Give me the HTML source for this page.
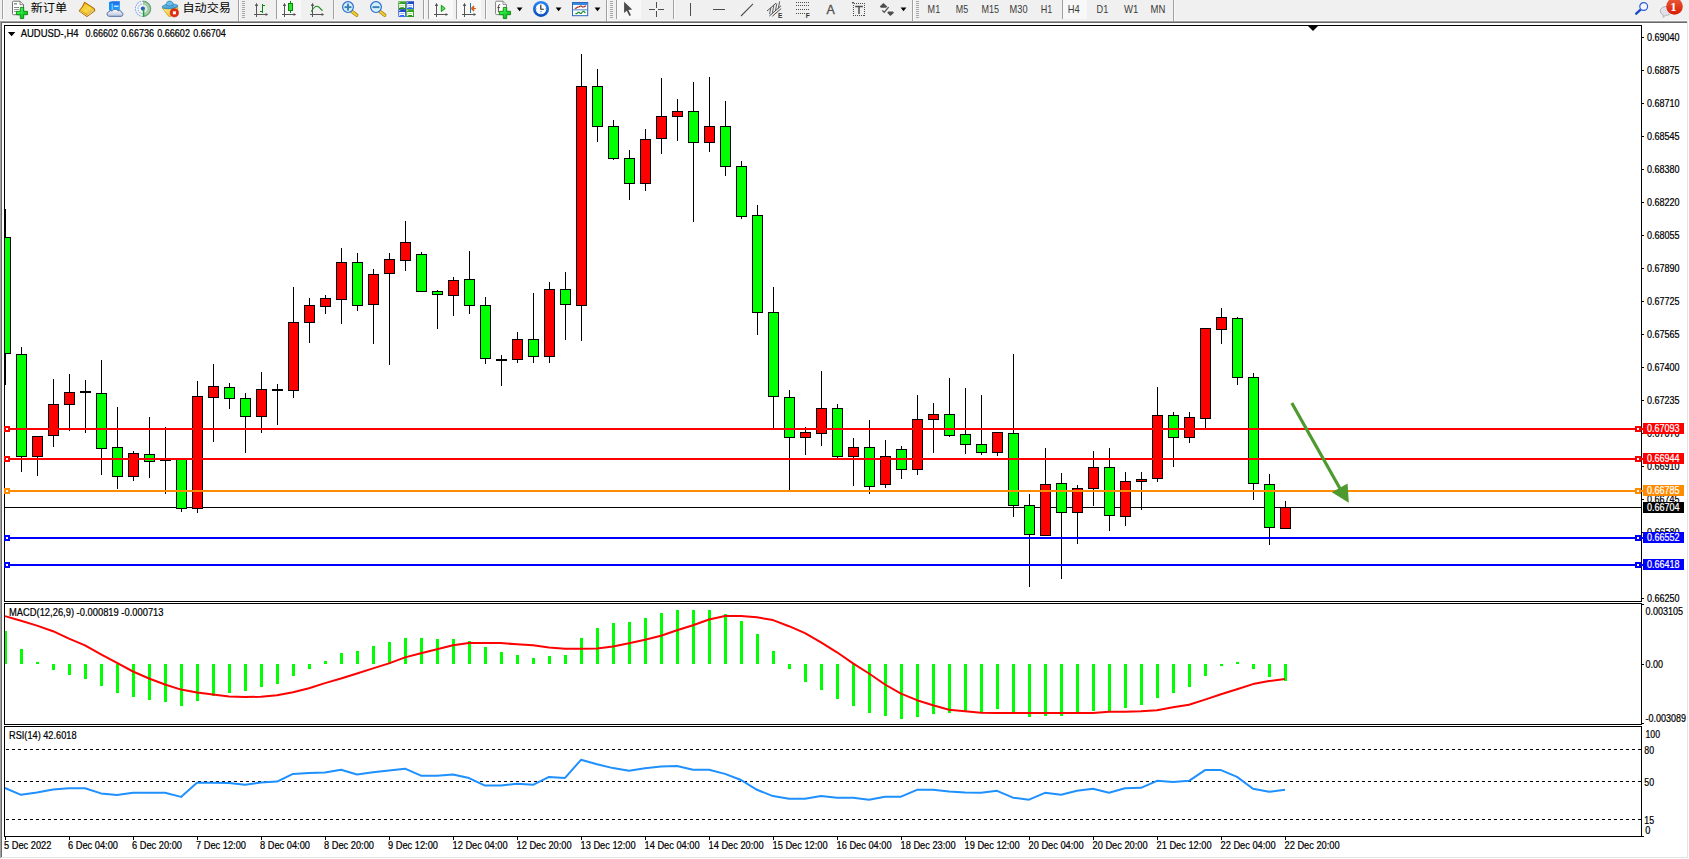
<!DOCTYPE html>
<html><head><meta charset="utf-8"><title>AUDUSD-,H4</title>
<style>
html,body{margin:0;padding:0;}
body{width:1689px;height:859px;overflow:hidden;background:#f0f0f0;position:relative;font-family:"Liberation Sans", sans-serif;}
svg text{white-space:pre;}
</style></head><body>
<svg width="1689" height="859" viewBox="0 0 1689 859" style="position:absolute;left:0;top:0" font-family='"Liberation Sans", sans-serif' shape-rendering="crispEdges">
<rect x="2" y="23" width="1685" height="834" fill="#fff" />
<rect x="0" y="21" width="1687" height="1" fill="#a0a0a0" />
<rect x="1" y="22" width="1686" height="1" fill="#696969" />
<rect x="0" y="21" width="1" height="838" fill="#a0a0a0" />
<rect x="1" y="22" width="1" height="836" fill="#696969" />
<rect x="1687" y="21" width="1" height="837" fill="#e3e3e3" />
<rect x="1688" y="21" width="1" height="838" fill="#fff" />
<rect x="1" y="857" width="1687" height="1" fill="#e3e3e3" />
<rect x="0" y="858" width="1689" height="1" fill="#fff" />
<rect x="4" y="25" width="1638" height="1" fill="#000" />
<rect x="4" y="601" width="1638" height="1" fill="#000" />
<rect x="4" y="25" width="1" height="577" fill="#000" />
<rect x="1641" y="25" width="1" height="577" fill="#000" />
<rect x="4" y="603" width="1638" height="1" fill="#000" />
<rect x="4" y="724" width="1638" height="1" fill="#000" />
<rect x="4" y="603" width="1" height="122" fill="#000" />
<rect x="1641" y="603" width="1" height="122" fill="#000" />
<rect x="4" y="726" width="1638" height="1" fill="#000" />
<rect x="4" y="836" width="1638" height="1" fill="#000" />
<rect x="4" y="726" width="1" height="111" fill="#000" />
<rect x="1641" y="726" width="1" height="111" fill="#000" />
<rect x="5" y="507" width="1636" height="1" fill="#000" />
<clipPath id="cc"><rect x="5" y="26" width="1636" height="575"/></clipPath><g clip-path="url(#cc)">
<rect x="5" y="209" width="1" height="176" fill="#000" />
<rect x="0" y="237" width="11" height="117" fill="#000" />
<rect x="1" y="238" width="9" height="115" fill="#00ff00" />
<rect x="21" y="347" width="1" height="125" fill="#000" />
<rect x="16" y="354" width="11" height="103" fill="#000" />
<rect x="17" y="355" width="9" height="101" fill="#00ff00" />
<rect x="37" y="436" width="1" height="40" fill="#000" />
<rect x="32" y="436" width="11" height="21" fill="#000" />
<rect x="33" y="437" width="9" height="19" fill="#ff0000" />
<rect x="53" y="379" width="1" height="68" fill="#000" />
<rect x="48" y="404" width="11" height="32" fill="#000" />
<rect x="49" y="405" width="9" height="30" fill="#ff0000" />
<rect x="69" y="374" width="1" height="57" fill="#000" />
<rect x="64" y="392" width="11" height="13" fill="#000" />
<rect x="65" y="393" width="9" height="11" fill="#ff0000" />
<rect x="85" y="380" width="1" height="53" fill="#000" />
<rect x="80" y="391" width="11" height="2" fill="#000" />
<rect x="101" y="360" width="1" height="115" fill="#000" />
<rect x="96" y="393" width="11" height="56" fill="#000" />
<rect x="97" y="394" width="9" height="54" fill="#00ff00" />
<rect x="117" y="407" width="1" height="82" fill="#000" />
<rect x="112" y="447" width="11" height="30" fill="#000" />
<rect x="113" y="448" width="9" height="28" fill="#00ff00" />
<rect x="133" y="451" width="1" height="30" fill="#000" />
<rect x="128" y="453" width="11" height="24" fill="#000" />
<rect x="129" y="454" width="9" height="22" fill="#ff0000" />
<rect x="149" y="417" width="1" height="61" fill="#000" />
<rect x="144" y="454" width="11" height="8" fill="#000" />
<rect x="145" y="455" width="9" height="6" fill="#00ff00" />
<rect x="165" y="427" width="1" height="67" fill="#000" />
<rect x="160" y="460" width="11" height="1" fill="#000" />
<rect x="181" y="459" width="1" height="53" fill="#000" />
<rect x="176" y="459" width="11" height="50" fill="#000" />
<rect x="177" y="460" width="9" height="48" fill="#00ff00" />
<rect x="197" y="381" width="1" height="132" fill="#000" />
<rect x="192" y="396" width="11" height="113" fill="#000" />
<rect x="193" y="397" width="9" height="111" fill="#ff0000" />
<rect x="213" y="364" width="1" height="78" fill="#000" />
<rect x="208" y="386" width="11" height="12" fill="#000" />
<rect x="209" y="387" width="9" height="10" fill="#ff0000" />
<rect x="229" y="383" width="1" height="26" fill="#000" />
<rect x="224" y="387" width="11" height="12" fill="#000" />
<rect x="225" y="388" width="9" height="10" fill="#00ff00" />
<rect x="245" y="393" width="1" height="60" fill="#000" />
<rect x="240" y="398" width="11" height="19" fill="#000" />
<rect x="241" y="399" width="9" height="17" fill="#00ff00" />
<rect x="261" y="372" width="1" height="61" fill="#000" />
<rect x="256" y="389" width="11" height="28" fill="#000" />
<rect x="257" y="390" width="9" height="26" fill="#ff0000" />
<rect x="277" y="384" width="1" height="41" fill="#000" />
<rect x="272" y="389" width="11" height="2" fill="#000" />
<rect x="293" y="287" width="1" height="111" fill="#000" />
<rect x="288" y="322" width="11" height="69" fill="#000" />
<rect x="289" y="323" width="9" height="67" fill="#ff0000" />
<rect x="309" y="298" width="1" height="45" fill="#000" />
<rect x="304" y="305" width="11" height="18" fill="#000" />
<rect x="305" y="306" width="9" height="16" fill="#ff0000" />
<rect x="325" y="295" width="1" height="19" fill="#000" />
<rect x="320" y="298" width="11" height="9" fill="#000" />
<rect x="321" y="299" width="9" height="7" fill="#ff0000" />
<rect x="341" y="248" width="1" height="76" fill="#000" />
<rect x="336" y="262" width="11" height="38" fill="#000" />
<rect x="337" y="263" width="9" height="36" fill="#ff0000" />
<rect x="357" y="253" width="1" height="58" fill="#000" />
<rect x="352" y="262" width="11" height="44" fill="#000" />
<rect x="353" y="263" width="9" height="42" fill="#00ff00" />
<rect x="373" y="269" width="1" height="75" fill="#000" />
<rect x="368" y="274" width="11" height="31" fill="#000" />
<rect x="369" y="275" width="9" height="29" fill="#ff0000" />
<rect x="389" y="253" width="1" height="112" fill="#000" />
<rect x="384" y="259" width="11" height="15" fill="#000" />
<rect x="385" y="260" width="9" height="13" fill="#ff0000" />
<rect x="405" y="221" width="1" height="50" fill="#000" />
<rect x="400" y="242" width="11" height="19" fill="#000" />
<rect x="401" y="243" width="9" height="17" fill="#ff0000" />
<rect x="421" y="252" width="1" height="40" fill="#000" />
<rect x="416" y="254" width="11" height="38" fill="#000" />
<rect x="417" y="255" width="9" height="36" fill="#00ff00" />
<rect x="437" y="290" width="1" height="39" fill="#000" />
<rect x="432" y="291" width="11" height="4" fill="#000" />
<rect x="433" y="292" width="9" height="2" fill="#00ff00" />
<rect x="453" y="277" width="1" height="39" fill="#000" />
<rect x="448" y="280" width="11" height="16" fill="#000" />
<rect x="449" y="281" width="9" height="14" fill="#ff0000" />
<rect x="469" y="251" width="1" height="63" fill="#000" />
<rect x="464" y="279" width="11" height="27" fill="#000" />
<rect x="465" y="280" width="9" height="25" fill="#00ff00" />
<rect x="485" y="297" width="1" height="67" fill="#000" />
<rect x="480" y="305" width="11" height="54" fill="#000" />
<rect x="481" y="306" width="9" height="52" fill="#00ff00" />
<rect x="501" y="355" width="1" height="31" fill="#000" />
<rect x="496" y="359" width="11" height="2" fill="#000" />
<rect x="517" y="332" width="1" height="31" fill="#000" />
<rect x="512" y="339" width="11" height="21" fill="#000" />
<rect x="513" y="340" width="9" height="19" fill="#ff0000" />
<rect x="533" y="293" width="1" height="70" fill="#000" />
<rect x="528" y="339" width="11" height="18" fill="#000" />
<rect x="529" y="340" width="9" height="16" fill="#00ff00" />
<rect x="549" y="282" width="1" height="81" fill="#000" />
<rect x="544" y="289" width="11" height="68" fill="#000" />
<rect x="545" y="290" width="9" height="66" fill="#ff0000" />
<rect x="565" y="272" width="1" height="68" fill="#000" />
<rect x="560" y="289" width="11" height="16" fill="#000" />
<rect x="561" y="290" width="9" height="14" fill="#00ff00" />
<rect x="581" y="54" width="1" height="287" fill="#000" />
<rect x="576" y="86" width="11" height="220" fill="#000" />
<rect x="577" y="87" width="9" height="218" fill="#ff0000" />
<rect x="597" y="69" width="1" height="73" fill="#000" />
<rect x="592" y="86" width="11" height="41" fill="#000" />
<rect x="593" y="87" width="9" height="39" fill="#00ff00" />
<rect x="613" y="120" width="1" height="40" fill="#000" />
<rect x="608" y="126" width="11" height="33" fill="#000" />
<rect x="609" y="127" width="9" height="31" fill="#00ff00" />
<rect x="629" y="150" width="1" height="50" fill="#000" />
<rect x="624" y="158" width="11" height="26" fill="#000" />
<rect x="625" y="159" width="9" height="24" fill="#00ff00" />
<rect x="645" y="129" width="1" height="62" fill="#000" />
<rect x="640" y="139" width="11" height="45" fill="#000" />
<rect x="641" y="140" width="9" height="43" fill="#ff0000" />
<rect x="661" y="78" width="1" height="76" fill="#000" />
<rect x="656" y="116" width="11" height="23" fill="#000" />
<rect x="657" y="117" width="9" height="21" fill="#ff0000" />
<rect x="677" y="99" width="1" height="42" fill="#000" />
<rect x="672" y="111" width="11" height="6" fill="#000" />
<rect x="673" y="112" width="9" height="4" fill="#ff0000" />
<rect x="693" y="82" width="1" height="140" fill="#000" />
<rect x="688" y="111" width="11" height="32" fill="#000" />
<rect x="689" y="112" width="9" height="30" fill="#00ff00" />
<rect x="709" y="77" width="1" height="75" fill="#000" />
<rect x="704" y="126" width="11" height="17" fill="#000" />
<rect x="705" y="127" width="9" height="15" fill="#ff0000" />
<rect x="725" y="101" width="1" height="75" fill="#000" />
<rect x="720" y="126" width="11" height="41" fill="#000" />
<rect x="721" y="127" width="9" height="39" fill="#00ff00" />
<rect x="741" y="161" width="1" height="58" fill="#000" />
<rect x="736" y="166" width="11" height="51" fill="#000" />
<rect x="737" y="167" width="9" height="49" fill="#00ff00" />
<rect x="757" y="205" width="1" height="130" fill="#000" />
<rect x="752" y="215" width="11" height="98" fill="#000" />
<rect x="753" y="216" width="9" height="96" fill="#00ff00" />
<rect x="773" y="287" width="1" height="142" fill="#000" />
<rect x="768" y="312" width="11" height="85" fill="#000" />
<rect x="769" y="313" width="9" height="83" fill="#00ff00" />
<rect x="789" y="390" width="1" height="101" fill="#000" />
<rect x="784" y="397" width="11" height="41" fill="#000" />
<rect x="785" y="398" width="9" height="39" fill="#00ff00" />
<rect x="805" y="427" width="1" height="28" fill="#000" />
<rect x="800" y="432" width="11" height="6" fill="#000" />
<rect x="801" y="433" width="9" height="4" fill="#ff0000" />
<rect x="821" y="371" width="1" height="75" fill="#000" />
<rect x="816" y="408" width="11" height="26" fill="#000" />
<rect x="817" y="409" width="9" height="24" fill="#ff0000" />
<rect x="837" y="404" width="1" height="54" fill="#000" />
<rect x="832" y="408" width="11" height="49" fill="#000" />
<rect x="833" y="409" width="9" height="47" fill="#00ff00" />
<rect x="853" y="438" width="1" height="48" fill="#000" />
<rect x="848" y="447" width="11" height="10" fill="#000" />
<rect x="849" y="448" width="9" height="8" fill="#ff0000" />
<rect x="869" y="420" width="1" height="74" fill="#000" />
<rect x="864" y="447" width="11" height="40" fill="#000" />
<rect x="865" y="448" width="9" height="38" fill="#00ff00" />
<rect x="885" y="440" width="1" height="48" fill="#000" />
<rect x="880" y="456" width="11" height="29" fill="#000" />
<rect x="881" y="457" width="9" height="27" fill="#ff0000" />
<rect x="901" y="446" width="1" height="33" fill="#000" />
<rect x="896" y="449" width="11" height="21" fill="#000" />
<rect x="897" y="450" width="9" height="19" fill="#00ff00" />
<rect x="917" y="395" width="1" height="80" fill="#000" />
<rect x="912" y="419" width="11" height="51" fill="#000" />
<rect x="913" y="420" width="9" height="49" fill="#ff0000" />
<rect x="933" y="403" width="1" height="50" fill="#000" />
<rect x="928" y="414" width="11" height="6" fill="#000" />
<rect x="929" y="415" width="9" height="4" fill="#ff0000" />
<rect x="949" y="378" width="1" height="59" fill="#000" />
<rect x="944" y="414" width="11" height="22" fill="#000" />
<rect x="945" y="415" width="9" height="20" fill="#00ff00" />
<rect x="965" y="388" width="1" height="66" fill="#000" />
<rect x="960" y="434" width="11" height="11" fill="#000" />
<rect x="961" y="435" width="9" height="9" fill="#00ff00" />
<rect x="981" y="395" width="1" height="60" fill="#000" />
<rect x="976" y="444" width="11" height="9" fill="#000" />
<rect x="977" y="445" width="9" height="7" fill="#00ff00" />
<rect x="997" y="432" width="1" height="24" fill="#000" />
<rect x="992" y="432" width="11" height="21" fill="#000" />
<rect x="993" y="433" width="9" height="19" fill="#ff0000" />
<rect x="1013" y="354" width="1" height="163" fill="#000" />
<rect x="1008" y="433" width="11" height="73" fill="#000" />
<rect x="1009" y="434" width="9" height="71" fill="#00ff00" />
<rect x="1029" y="494" width="1" height="93" fill="#000" />
<rect x="1024" y="505" width="11" height="30" fill="#000" />
<rect x="1025" y="506" width="9" height="28" fill="#00ff00" />
<rect x="1045" y="448" width="1" height="88" fill="#000" />
<rect x="1040" y="484" width="11" height="52" fill="#000" />
<rect x="1041" y="485" width="9" height="50" fill="#ff0000" />
<rect x="1061" y="473" width="1" height="106" fill="#000" />
<rect x="1056" y="483" width="11" height="30" fill="#000" />
<rect x="1057" y="484" width="9" height="28" fill="#00ff00" />
<rect x="1077" y="485" width="1" height="59" fill="#000" />
<rect x="1072" y="488" width="11" height="25" fill="#000" />
<rect x="1073" y="489" width="9" height="23" fill="#ff0000" />
<rect x="1093" y="451" width="1" height="55" fill="#000" />
<rect x="1088" y="467" width="11" height="22" fill="#000" />
<rect x="1089" y="468" width="9" height="20" fill="#ff0000" />
<rect x="1109" y="448" width="1" height="83" fill="#000" />
<rect x="1104" y="467" width="11" height="49" fill="#000" />
<rect x="1105" y="468" width="9" height="47" fill="#00ff00" />
<rect x="1125" y="472" width="1" height="54" fill="#000" />
<rect x="1120" y="481" width="11" height="36" fill="#000" />
<rect x="1121" y="482" width="9" height="34" fill="#ff0000" />
<rect x="1141" y="472" width="1" height="38" fill="#000" />
<rect x="1136" y="479" width="11" height="3" fill="#000" />
<rect x="1137" y="480" width="9" height="1" fill="#ff0000" />
<rect x="1157" y="387" width="1" height="95" fill="#000" />
<rect x="1152" y="415" width="11" height="64" fill="#000" />
<rect x="1153" y="416" width="9" height="62" fill="#ff0000" />
<rect x="1173" y="412" width="1" height="55" fill="#000" />
<rect x="1168" y="415" width="11" height="23" fill="#000" />
<rect x="1169" y="416" width="9" height="21" fill="#00ff00" />
<rect x="1189" y="412" width="1" height="31" fill="#000" />
<rect x="1184" y="417" width="11" height="21" fill="#000" />
<rect x="1185" y="418" width="9" height="19" fill="#ff0000" />
<rect x="1205" y="328" width="1" height="101" fill="#000" />
<rect x="1200" y="328" width="11" height="91" fill="#000" />
<rect x="1201" y="329" width="9" height="89" fill="#ff0000" />
<rect x="1221" y="308" width="1" height="36" fill="#000" />
<rect x="1216" y="317" width="11" height="13" fill="#000" />
<rect x="1217" y="318" width="9" height="11" fill="#ff0000" />
<rect x="1237" y="317" width="1" height="68" fill="#000" />
<rect x="1232" y="318" width="11" height="60" fill="#000" />
<rect x="1233" y="319" width="9" height="58" fill="#00ff00" />
<rect x="1253" y="373" width="1" height="127" fill="#000" />
<rect x="1248" y="377" width="11" height="107" fill="#000" />
<rect x="1249" y="378" width="9" height="105" fill="#00ff00" />
<rect x="1269" y="474" width="1" height="71" fill="#000" />
<rect x="1264" y="484" width="11" height="44" fill="#000" />
<rect x="1265" y="485" width="9" height="42" fill="#00ff00" />
<rect x="1285" y="501" width="1" height="28" fill="#000" />
<rect x="1280" y="507" width="11" height="22" fill="#000" />
<rect x="1281" y="508" width="9" height="20" fill="#ff0000" />
</g>
<rect x="1642" y="37" width="2" height="1" fill="#000" />
<text x="1647" y="41" font-size="10.4" fill="#000" stroke="#000" stroke-width="0.22" text-anchor="start" textLength="32.6" lengthAdjust="spacingAndGlyphs" >0.69040</text>
<rect x="1642" y="70" width="2" height="1" fill="#000" />
<text x="1647" y="74" font-size="10.4" fill="#000" stroke="#000" stroke-width="0.22" text-anchor="start" textLength="32.6" lengthAdjust="spacingAndGlyphs" >0.68875</text>
<rect x="1642" y="103" width="2" height="1" fill="#000" />
<text x="1647" y="107" font-size="10.4" fill="#000" stroke="#000" stroke-width="0.22" text-anchor="start" textLength="32.6" lengthAdjust="spacingAndGlyphs" >0.68710</text>
<rect x="1642" y="136" width="2" height="1" fill="#000" />
<text x="1647" y="140" font-size="10.4" fill="#000" stroke="#000" stroke-width="0.22" text-anchor="start" textLength="32.6" lengthAdjust="spacingAndGlyphs" >0.68545</text>
<rect x="1642" y="169" width="2" height="1" fill="#000" />
<text x="1647" y="173" font-size="10.4" fill="#000" stroke="#000" stroke-width="0.22" text-anchor="start" textLength="32.6" lengthAdjust="spacingAndGlyphs" >0.68380</text>
<rect x="1642" y="202" width="2" height="1" fill="#000" />
<text x="1647" y="206" font-size="10.4" fill="#000" stroke="#000" stroke-width="0.22" text-anchor="start" textLength="32.6" lengthAdjust="spacingAndGlyphs" >0.68220</text>
<rect x="1642" y="235" width="2" height="1" fill="#000" />
<text x="1647" y="239" font-size="10.4" fill="#000" stroke="#000" stroke-width="0.22" text-anchor="start" textLength="32.6" lengthAdjust="spacingAndGlyphs" >0.68055</text>
<rect x="1642" y="268" width="2" height="1" fill="#000" />
<text x="1647" y="272" font-size="10.4" fill="#000" stroke="#000" stroke-width="0.22" text-anchor="start" textLength="32.6" lengthAdjust="spacingAndGlyphs" >0.67890</text>
<rect x="1642" y="301" width="2" height="1" fill="#000" />
<text x="1647" y="305" font-size="10.4" fill="#000" stroke="#000" stroke-width="0.22" text-anchor="start" textLength="32.6" lengthAdjust="spacingAndGlyphs" >0.67725</text>
<rect x="1642" y="334" width="2" height="1" fill="#000" />
<text x="1647" y="338" font-size="10.4" fill="#000" stroke="#000" stroke-width="0.22" text-anchor="start" textLength="32.6" lengthAdjust="spacingAndGlyphs" >0.67565</text>
<rect x="1642" y="367" width="2" height="1" fill="#000" />
<text x="1647" y="371" font-size="10.4" fill="#000" stroke="#000" stroke-width="0.22" text-anchor="start" textLength="32.6" lengthAdjust="spacingAndGlyphs" >0.67400</text>
<rect x="1642" y="400" width="2" height="1" fill="#000" />
<text x="1647" y="404" font-size="10.4" fill="#000" stroke="#000" stroke-width="0.22" text-anchor="start" textLength="32.6" lengthAdjust="spacingAndGlyphs" >0.67235</text>
<rect x="1642" y="433" width="2" height="1" fill="#000" />
<text x="1647" y="437" font-size="10.4" fill="#000" stroke="#000" stroke-width="0.22" text-anchor="start" textLength="32.6" lengthAdjust="spacingAndGlyphs" >0.67070</text>
<rect x="1642" y="466" width="2" height="1" fill="#000" />
<text x="1647" y="470" font-size="10.4" fill="#000" stroke="#000" stroke-width="0.22" text-anchor="start" textLength="32.6" lengthAdjust="spacingAndGlyphs" >0.66910</text>
<rect x="1642" y="499" width="2" height="1" fill="#000" />
<text x="1647" y="503" font-size="10.4" fill="#000" stroke="#000" stroke-width="0.22" text-anchor="start" textLength="32.6" lengthAdjust="spacingAndGlyphs" >0.66745</text>
<rect x="1642" y="532" width="2" height="1" fill="#000" />
<text x="1647" y="536" font-size="10.4" fill="#000" stroke="#000" stroke-width="0.22" text-anchor="start" textLength="32.6" lengthAdjust="spacingAndGlyphs" >0.66580</text>
<rect x="1642" y="565" width="2" height="1" fill="#000" />
<rect x="1642" y="598" width="2" height="1" fill="#000" />
<text x="1647" y="602" font-size="10.4" fill="#000" stroke="#000" stroke-width="0.22" text-anchor="start" textLength="32.6" lengthAdjust="spacingAndGlyphs" >0.66250</text>
<rect x="5" y="428" width="1638" height="2" fill="#ff0000" />
<rect x="4" y="426" width="6" height="6" fill="#ff0000" />
<rect x="6" y="428" width="2" height="2" fill="#fff" />
<rect x="1635" y="426" width="6" height="6" fill="#ff0000" />
<rect x="1637" y="428" width="2" height="2" fill="#fff" />
<rect x="1643" y="423" width="41" height="11" fill="#ff0000" />
<text x="1647" y="432.4" font-size="10.4" fill="#fff" stroke="#fff" stroke-width="0.22" text-anchor="start" textLength="32.6" lengthAdjust="spacingAndGlyphs" >0.67093</text>
<rect x="5" y="458" width="1638" height="2" fill="#ff0000" />
<rect x="4" y="456" width="6" height="6" fill="#ff0000" />
<rect x="6" y="458" width="2" height="2" fill="#fff" />
<rect x="1635" y="456" width="6" height="6" fill="#ff0000" />
<rect x="1637" y="458" width="2" height="2" fill="#fff" />
<rect x="1643" y="453" width="41" height="11" fill="#ff0000" />
<text x="1647" y="462.4" font-size="10.4" fill="#fff" stroke="#fff" stroke-width="0.22" text-anchor="start" textLength="32.6" lengthAdjust="spacingAndGlyphs" >0.66944</text>
<rect x="5" y="490" width="1638" height="2" fill="#ff8c00" />
<rect x="4" y="488" width="6" height="6" fill="#ff8c00" />
<rect x="6" y="490" width="2" height="2" fill="#fff" />
<rect x="1635" y="488" width="6" height="6" fill="#ff8c00" />
<rect x="1637" y="490" width="2" height="2" fill="#fff" />
<rect x="1643" y="485" width="41" height="11" fill="#ff8c00" />
<text x="1647" y="494.4" font-size="10.4" fill="#fff" stroke="#fff" stroke-width="0.22" text-anchor="start" textLength="32.6" lengthAdjust="spacingAndGlyphs" >0.66785</text>
<rect x="1643" y="502" width="41" height="11" fill="#000" />
<text x="1647" y="511" font-size="10.4" fill="#fff" stroke="#fff" stroke-width="0.22" text-anchor="start" textLength="32.6" lengthAdjust="spacingAndGlyphs" >0.66704</text>
<rect x="5" y="537" width="1638" height="2" fill="#0000ff" />
<rect x="4" y="535" width="6" height="6" fill="#0000ff" />
<rect x="6" y="537" width="2" height="2" fill="#fff" />
<rect x="1635" y="535" width="6" height="6" fill="#0000ff" />
<rect x="1637" y="537" width="2" height="2" fill="#fff" />
<rect x="1643" y="532" width="41" height="11" fill="#0000ff" />
<text x="1647" y="541.4" font-size="10.4" fill="#fff" stroke="#fff" stroke-width="0.22" text-anchor="start" textLength="32.6" lengthAdjust="spacingAndGlyphs" >0.66552</text>
<rect x="5" y="564" width="1638" height="2" fill="#0000ff" />
<rect x="4" y="562" width="6" height="6" fill="#0000ff" />
<rect x="6" y="564" width="2" height="2" fill="#fff" />
<rect x="1635" y="562" width="6" height="6" fill="#0000ff" />
<rect x="1637" y="564" width="2" height="2" fill="#fff" />
<rect x="1643" y="559" width="41" height="11" fill="#0000ff" />
<text x="1647" y="568.4" font-size="10.4" fill="#fff" stroke="#fff" stroke-width="0.22" text-anchor="start" textLength="32.6" lengthAdjust="spacingAndGlyphs" >0.66418</text>
<g shape-rendering="auto"><line x1="1291.8" y1="403" x2="1340" y2="488.5" stroke="#4e9a2e" stroke-width="3.2"/><polygon points="1347.6,483.6 1331.8,492.2 1348.8,502.8" fill="#4e9a2e"/></g>
<polygon points="7.9,32 15.3,32 11.6,36.3" fill="#000" shape-rendering="auto"/>
<text x="20.7" y="37.1" font-size="10.4" fill="#000" stroke="#000" stroke-width="0.22" text-anchor="start" textLength="57.8" lengthAdjust="spacingAndGlyphs" >AUDUSD-,H4</text>
<text x="85.4" y="37.1" font-size="10.4" fill="#000" stroke="#000" stroke-width="0.22" text-anchor="start" textLength="32.6" lengthAdjust="spacingAndGlyphs" >0.66602</text>
<text x="121.35000000000001" y="37.1" font-size="10.4" fill="#000" stroke="#000" stroke-width="0.22" text-anchor="start" textLength="32.6" lengthAdjust="spacingAndGlyphs" >0.66736</text>
<text x="157.3" y="37.1" font-size="10.4" fill="#000" stroke="#000" stroke-width="0.22" text-anchor="start" textLength="32.6" lengthAdjust="spacingAndGlyphs" >0.66602</text>
<text x="193.25" y="37.1" font-size="10.4" fill="#000" stroke="#000" stroke-width="0.22" text-anchor="start" textLength="32.6" lengthAdjust="spacingAndGlyphs" >0.66704</text>
<polygon points="1308,26 1318,26 1313,31" fill="#000" shape-rendering="auto"/>
<rect x="4" y="631" width="3" height="33" fill="#00ff00" />
<rect x="20" y="649" width="3" height="15" fill="#00ff00" />
<rect x="36" y="662" width="3" height="2" fill="#00ff00" />
<rect x="52" y="664" width="3" height="6" fill="#00ff00" />
<rect x="68" y="664" width="3" height="11" fill="#00ff00" />
<rect x="84" y="664" width="3" height="15" fill="#00ff00" />
<rect x="100" y="664" width="3" height="22" fill="#00ff00" />
<rect x="116" y="664" width="3" height="29" fill="#00ff00" />
<rect x="132" y="664" width="3" height="33" fill="#00ff00" />
<rect x="148" y="664" width="3" height="36" fill="#00ff00" />
<rect x="164" y="664" width="3" height="38" fill="#00ff00" />
<rect x="180" y="664" width="3" height="42" fill="#00ff00" />
<rect x="196" y="664" width="3" height="37" fill="#00ff00" />
<rect x="212" y="664" width="3" height="32" fill="#00ff00" />
<rect x="228" y="664" width="3" height="29" fill="#00ff00" />
<rect x="244" y="664" width="3" height="27" fill="#00ff00" />
<rect x="260" y="664" width="3" height="23" fill="#00ff00" />
<rect x="276" y="664" width="3" height="20" fill="#00ff00" />
<rect x="292" y="664" width="3" height="12" fill="#00ff00" />
<rect x="308" y="664" width="3" height="5" fill="#00ff00" />
<rect x="324" y="661" width="3" height="3" fill="#00ff00" />
<rect x="340" y="653" width="3" height="11" fill="#00ff00" />
<rect x="356" y="651" width="3" height="13" fill="#00ff00" />
<rect x="372" y="646" width="3" height="18" fill="#00ff00" />
<rect x="388" y="642" width="3" height="22" fill="#00ff00" />
<rect x="404" y="638" width="3" height="26" fill="#00ff00" />
<rect x="420" y="638" width="3" height="26" fill="#00ff00" />
<rect x="436" y="639" width="3" height="25" fill="#00ff00" />
<rect x="452" y="639" width="3" height="25" fill="#00ff00" />
<rect x="468" y="641" width="3" height="23" fill="#00ff00" />
<rect x="484" y="647" width="3" height="17" fill="#00ff00" />
<rect x="500" y="652" width="3" height="12" fill="#00ff00" />
<rect x="516" y="655" width="3" height="9" fill="#00ff00" />
<rect x="532" y="658" width="3" height="6" fill="#00ff00" />
<rect x="548" y="656" width="3" height="8" fill="#00ff00" />
<rect x="564" y="655" width="3" height="9" fill="#00ff00" />
<rect x="580" y="638" width="3" height="26" fill="#00ff00" />
<rect x="596" y="628" width="3" height="36" fill="#00ff00" />
<rect x="612" y="623" width="3" height="41" fill="#00ff00" />
<rect x="628" y="622" width="3" height="42" fill="#00ff00" />
<rect x="644" y="618" width="3" height="46" fill="#00ff00" />
<rect x="660" y="613" width="3" height="51" fill="#00ff00" />
<rect x="676" y="610" width="3" height="54" fill="#00ff00" />
<rect x="692" y="610" width="3" height="54" fill="#00ff00" />
<rect x="708" y="610" width="3" height="54" fill="#00ff00" />
<rect x="724" y="614" width="3" height="50" fill="#00ff00" />
<rect x="740" y="621" width="3" height="43" fill="#00ff00" />
<rect x="756" y="634" width="3" height="30" fill="#00ff00" />
<rect x="772" y="651" width="3" height="13" fill="#00ff00" />
<rect x="788" y="664" width="3" height="5" fill="#00ff00" />
<rect x="804" y="664" width="3" height="18" fill="#00ff00" />
<rect x="820" y="664" width="3" height="26" fill="#00ff00" />
<rect x="836" y="664" width="3" height="35" fill="#00ff00" />
<rect x="852" y="664" width="3" height="42" fill="#00ff00" />
<rect x="868" y="664" width="3" height="49" fill="#00ff00" />
<rect x="884" y="664" width="3" height="52" fill="#00ff00" />
<rect x="900" y="664" width="3" height="55" fill="#00ff00" />
<rect x="916" y="664" width="3" height="53" fill="#00ff00" />
<rect x="932" y="664" width="3" height="50" fill="#00ff00" />
<rect x="948" y="664" width="3" height="49" fill="#00ff00" />
<rect x="964" y="664" width="3" height="48" fill="#00ff00" />
<rect x="980" y="664" width="3" height="49" fill="#00ff00" />
<rect x="996" y="664" width="3" height="45" fill="#00ff00" />
<rect x="1012" y="664" width="3" height="48" fill="#00ff00" />
<rect x="1028" y="664" width="3" height="53" fill="#00ff00" />
<rect x="1044" y="664" width="3" height="52" fill="#00ff00" />
<rect x="1060" y="664" width="3" height="52" fill="#00ff00" />
<rect x="1076" y="664" width="3" height="48" fill="#00ff00" />
<rect x="1092" y="664" width="3" height="47" fill="#00ff00" />
<rect x="1108" y="664" width="3" height="47" fill="#00ff00" />
<rect x="1124" y="664" width="3" height="44" fill="#00ff00" />
<rect x="1140" y="664" width="3" height="41" fill="#00ff00" />
<rect x="1156" y="664" width="3" height="34" fill="#00ff00" />
<rect x="1172" y="664" width="3" height="29" fill="#00ff00" />
<rect x="1188" y="664" width="3" height="23" fill="#00ff00" />
<rect x="1204" y="664" width="3" height="12" fill="#00ff00" />
<rect x="1220" y="664" width="3" height="2" fill="#00ff00" />
<rect x="1236" y="662" width="3" height="2" fill="#00ff00" />
<rect x="1252" y="664" width="3" height="5" fill="#00ff00" />
<rect x="1268" y="664" width="3" height="13" fill="#00ff00" />
<rect x="1284" y="664" width="3" height="17" fill="#00ff00" />
<polyline points="5,616.1 21,620.7 37,625.6 53,631.2 69,638.6 85,645.3 101,654.3 117,662.8 133,671.5 149,678.5 165,684.5 181,689.6 197,692.6 213,694.6 229,696.6 245,697 261,696.8 277,695.2 293,692.2 309,688.2 325,683.1 341,678.5 357,673.5 373,668.4 389,663.4 405,657.4 421,653.3 437,649.3 453,645.3 469,642.9 485,642.9 501,643.1 517,644.3 533,645.3 549,647.5 565,648.7 581,648.7 597,648.5 613,646.5 629,643.3 645,639.7 661,635.8 677,630.2 693,625.2 709,619.5 725,616.1 741,616.1 757,617.3 773,620.1 789,626.2 805,633.2 821,642.3 837,652.3 853,663.4 869,673.5 885,684.5 901,693.6 917,700.2 933,705.3 949,709.7 965,711.3 981,712.7 997,712.9 1013,712.9 1029,712.9 1045,712.9 1061,712.9 1077,712.9 1093,712.9 1109,711.7 1125,711.7 1141,711.3 1157,710.3 1173,707.3 1189,704.7 1205,699.6 1221,694.2 1237,689.2 1253,684.1 1269,681.1 1285,679.1" fill="none" stroke="#ff0000" stroke-width="2" shape-rendering="auto" stroke-linejoin="round"/>
<rect x="2" y="604" width="2" height="120" fill="#fff" />
<rect x="4" y="603" width="1" height="122" fill="#000" />
<text x="9" y="616" font-size="10.4" fill="#000" stroke="#000" stroke-width="0.22" text-anchor="start" textLength="154.5" lengthAdjust="spacingAndGlyphs" >MACD(12,26,9) -0.000819 -0.000713</text>
<rect x="1642" y="604" width="2" height="1" fill="#000" />
<rect x="1642" y="664" width="2" height="1" fill="#000" />
<rect x="1642" y="723" width="2" height="1" fill="#000" />
<text x="1645.5" y="614.6" font-size="10.4" fill="#000" stroke="#000" stroke-width="0.22" text-anchor="start" textLength="37.5" lengthAdjust="spacingAndGlyphs" >0.003105</text>
<text x="1645.5" y="668" font-size="10.4" fill="#000" stroke="#000" stroke-width="0.22" text-anchor="start" textLength="17.5" lengthAdjust="spacingAndGlyphs" >0.00</text>
<text x="1645.5" y="721.7" font-size="10.4" fill="#000" stroke="#000" stroke-width="0.22" text-anchor="start" textLength="40.5" lengthAdjust="spacingAndGlyphs" >-0.003089</text>
<line x1="6" y1="749.5" x2="1641" y2="749.5" stroke="#000" stroke-width="1" stroke-dasharray="3 3"/>
<line x1="6" y1="781.5" x2="1641" y2="781.5" stroke="#000" stroke-width="1" stroke-dasharray="3 3"/>
<line x1="6" y1="819.5" x2="1641" y2="819.5" stroke="#000" stroke-width="1" stroke-dasharray="3 3"/>
<polyline points="5,788 21,794.8 37,792.4 53,789.4 69,788.2 85,788.2 101,793.4 117,795 133,792.8 149,792.8 165,792.8 181,796.9 197,782.8 213,782.8 229,783 245,784.8 261,782.4 277,781.6 293,773.9 309,772.9 325,772.5 341,769.7 357,774.5 373,772.3 389,770.5 405,768.7 421,775.7 437,775.7 453,774.5 469,778.1 485,785.6 501,785.6 517,783.8 533,784.8 549,776.9 565,777.9 581,759.8 597,764.3 613,768.1 629,770.7 645,768.3 661,766.5 677,766.1 693,769.7 709,769.7 725,773.9 741,780 757,789.8 773,796.1 789,798.7 805,798.7 821,795.9 837,797.7 853,797.7 869,799.7 885,796.7 901,796.7 917,789.8 933,789.8 949,791.4 965,792.6 981,792.8 997,790.8 1013,797.7 1029,799.7 1045,792.8 1061,794.8 1077,790.8 1093,788.8 1109,792.8 1125,788.2 1141,787.8 1157,780.8 1173,782 1189,780.8 1205,770.1 1221,770.1 1237,776.9 1253,788.8 1269,791.8 1285,789.8" fill="none" stroke="#1e90ff" stroke-width="2" shape-rendering="auto" stroke-linejoin="round"/>
<rect x="2" y="727" width="2" height="109" fill="#fff" />
<rect x="4" y="726" width="1" height="111" fill="#000" />
<text x="9" y="739" font-size="10.4" fill="#000" stroke="#000" stroke-width="0.22" text-anchor="start" textLength="67.5" lengthAdjust="spacingAndGlyphs" >RSI(14) 42.6018</text>
<text x="1645.5" y="738" font-size="10.4" fill="#000" stroke="#000" stroke-width="0.22" text-anchor="start" textLength="14.5" lengthAdjust="spacingAndGlyphs" >100</text>
<text x="1644.3" y="753.6" font-size="10.4" fill="#000" stroke="#000" stroke-width="0.22" text-anchor="start" textLength="9.8" lengthAdjust="spacingAndGlyphs" >80</text>
<text x="1644.3" y="785.6" font-size="10.4" fill="#000" stroke="#000" stroke-width="0.22" text-anchor="start" textLength="9.8" lengthAdjust="spacingAndGlyphs" >50</text>
<text x="1644.3" y="823.6" font-size="10.4" fill="#000" stroke="#000" stroke-width="0.22" text-anchor="start" textLength="9.8" lengthAdjust="spacingAndGlyphs" >15</text>
<text x="1645.3" y="833.6" font-size="10.4" fill="#000" stroke="#000" stroke-width="0.22" text-anchor="start" textLength="5.12" lengthAdjust="spacingAndGlyphs" >0</text>
<rect x="1642" y="836" width="2" height="1" fill="#000" />
<rect x="5" y="837" width="1" height="3" fill="#000" />
<text x="4" y="849.4" font-size="10.4" fill="#000" stroke="#000" stroke-width="0.22" text-anchor="start" textLength="47.43" lengthAdjust="spacingAndGlyphs" >5 Dec 2022</text>
<rect x="69" y="837" width="1" height="3" fill="#000" />
<text x="68" y="849.4" font-size="10.4" fill="#000" stroke="#000" stroke-width="0.22" text-anchor="start" textLength="50.0" lengthAdjust="spacingAndGlyphs" >6 Dec 04:00</text>
<rect x="133" y="837" width="1" height="3" fill="#000" />
<text x="132" y="849.4" font-size="10.4" fill="#000" stroke="#000" stroke-width="0.22" text-anchor="start" textLength="50.0" lengthAdjust="spacingAndGlyphs" >6 Dec 20:00</text>
<rect x="197" y="837" width="1" height="3" fill="#000" />
<text x="196" y="849.4" font-size="10.4" fill="#000" stroke="#000" stroke-width="0.22" text-anchor="start" textLength="50.0" lengthAdjust="spacingAndGlyphs" >7 Dec 12:00</text>
<rect x="261" y="837" width="1" height="3" fill="#000" />
<text x="260" y="849.4" font-size="10.4" fill="#000" stroke="#000" stroke-width="0.22" text-anchor="start" textLength="50.0" lengthAdjust="spacingAndGlyphs" >8 Dec 04:00</text>
<rect x="325" y="837" width="1" height="3" fill="#000" />
<text x="324" y="849.4" font-size="10.4" fill="#000" stroke="#000" stroke-width="0.22" text-anchor="start" textLength="50.0" lengthAdjust="spacingAndGlyphs" >8 Dec 20:00</text>
<rect x="389" y="837" width="1" height="3" fill="#000" />
<text x="388" y="849.4" font-size="10.4" fill="#000" stroke="#000" stroke-width="0.22" text-anchor="start" textLength="50.0" lengthAdjust="spacingAndGlyphs" >9 Dec 12:00</text>
<rect x="453" y="837" width="1" height="3" fill="#000" />
<text x="452.5" y="849.4" font-size="10.4" fill="#000" stroke="#000" stroke-width="0.22" text-anchor="start" textLength="55.16" lengthAdjust="spacingAndGlyphs" >12 Dec 04:00</text>
<rect x="517" y="837" width="1" height="3" fill="#000" />
<text x="516.5" y="849.4" font-size="10.4" fill="#000" stroke="#000" stroke-width="0.22" text-anchor="start" textLength="55.16" lengthAdjust="spacingAndGlyphs" >12 Dec 20:00</text>
<rect x="581" y="837" width="1" height="3" fill="#000" />
<text x="580.5" y="849.4" font-size="10.4" fill="#000" stroke="#000" stroke-width="0.22" text-anchor="start" textLength="55.16" lengthAdjust="spacingAndGlyphs" >13 Dec 12:00</text>
<rect x="645" y="837" width="1" height="3" fill="#000" />
<text x="644.5" y="849.4" font-size="10.4" fill="#000" stroke="#000" stroke-width="0.22" text-anchor="start" textLength="55.16" lengthAdjust="spacingAndGlyphs" >14 Dec 04:00</text>
<rect x="709" y="837" width="1" height="3" fill="#000" />
<text x="708.5" y="849.4" font-size="10.4" fill="#000" stroke="#000" stroke-width="0.22" text-anchor="start" textLength="55.16" lengthAdjust="spacingAndGlyphs" >14 Dec 20:00</text>
<rect x="773" y="837" width="1" height="3" fill="#000" />
<text x="772.5" y="849.4" font-size="10.4" fill="#000" stroke="#000" stroke-width="0.22" text-anchor="start" textLength="55.16" lengthAdjust="spacingAndGlyphs" >15 Dec 12:00</text>
<rect x="837" y="837" width="1" height="3" fill="#000" />
<text x="836.5" y="849.4" font-size="10.4" fill="#000" stroke="#000" stroke-width="0.22" text-anchor="start" textLength="55.16" lengthAdjust="spacingAndGlyphs" >16 Dec 04:00</text>
<rect x="901" y="837" width="1" height="3" fill="#000" />
<text x="900.5" y="849.4" font-size="10.4" fill="#000" stroke="#000" stroke-width="0.22" text-anchor="start" textLength="55.16" lengthAdjust="spacingAndGlyphs" >18 Dec 23:00</text>
<rect x="965" y="837" width="1" height="3" fill="#000" />
<text x="964.5" y="849.4" font-size="10.4" fill="#000" stroke="#000" stroke-width="0.22" text-anchor="start" textLength="55.16" lengthAdjust="spacingAndGlyphs" >19 Dec 12:00</text>
<rect x="1029" y="837" width="1" height="3" fill="#000" />
<text x="1028.5" y="849.4" font-size="10.4" fill="#000" stroke="#000" stroke-width="0.22" text-anchor="start" textLength="55.16" lengthAdjust="spacingAndGlyphs" >20 Dec 04:00</text>
<rect x="1093" y="837" width="1" height="3" fill="#000" />
<text x="1092.5" y="849.4" font-size="10.4" fill="#000" stroke="#000" stroke-width="0.22" text-anchor="start" textLength="55.16" lengthAdjust="spacingAndGlyphs" >20 Dec 20:00</text>
<rect x="1157" y="837" width="1" height="3" fill="#000" />
<text x="1156.5" y="849.4" font-size="10.4" fill="#000" stroke="#000" stroke-width="0.22" text-anchor="start" textLength="55.16" lengthAdjust="spacingAndGlyphs" >21 Dec 12:00</text>
<rect x="1221" y="837" width="1" height="3" fill="#000" />
<text x="1220.5" y="849.4" font-size="10.4" fill="#000" stroke="#000" stroke-width="0.22" text-anchor="start" textLength="55.16" lengthAdjust="spacingAndGlyphs" >22 Dec 04:00</text>
<rect x="1285" y="837" width="1" height="3" fill="#000" />
<text x="1284.5" y="849.4" font-size="10.4" fill="#000" stroke="#000" stroke-width="0.22" text-anchor="start" textLength="55.16" lengthAdjust="spacingAndGlyphs" >22 Dec 20:00</text>
</svg>
<svg width="1689" height="21" viewBox="0 0 1689 21" style="position:absolute;left:0;top:0" font-family='"Liberation Sans","Noto Sans CJK SC",sans-serif'>
<defs>
<linearGradient id="gplus" x1="0" y1="0" x2="1" y2="1"><stop offset="0" stop-color="#5cff6a"/><stop offset="0.5" stop-color="#1fe033"/><stop offset="1" stop-color="#0a9a12"/></linearGradient>
<linearGradient id="gbook" x1="0" y1="0" x2="1" y2="1"><stop offset="0" stop-color="#f3c21a"/><stop offset="0.6" stop-color="#f7d84a"/><stop offset="1" stop-color="#d89a0a"/></linearGradient>
<linearGradient id="gsrv" x1="0" y1="0" x2="0" y2="1"><stop offset="0" stop-color="#1a6ae8"/><stop offset="1" stop-color="#1aa8ff"/></linearGradient>
<linearGradient id="gcloud" x1="0" y1="0" x2="0" y2="1"><stop offset="0" stop-color="#ffffff"/><stop offset="1" stop-color="#b8c4dc"/></linearGradient>
<linearGradient id="gred" x1="0" y1="0" x2="0" y2="1"><stop offset="0" stop-color="#ea5c3c"/><stop offset="1" stop-color="#d81a00"/></linearGradient>
<linearGradient id="gclock" x1="0" y1="0" x2="0" y2="1"><stop offset="0" stop-color="#2a8af8"/><stop offset="1" stop-color="#0848b8"/></linearGradient>
<linearGradient id="ghat" x1="0" y1="0" x2="0" y2="1"><stop offset="0" stop-color="#7cc6f2"/><stop offset="1" stop-color="#3a96d6"/></linearGradient>
<linearGradient id="gface" x1="0" y1="0" x2="1" y2="1"><stop offset="0" stop-color="#fff2a0"/><stop offset="1" stop-color="#e8b010"/></linearGradient>
<linearGradient id="ggrn" x1="0" y1="0" x2="0" y2="1"><stop offset="0" stop-color="#3aa828"/><stop offset="1" stop-color="#1e8a10"/></linearGradient>
<linearGradient id="gblu" x1="0" y1="0" x2="0" y2="1"><stop offset="0" stop-color="#1a3fb8"/><stop offset="1" stop-color="#2a6af0"/></linearGradient>
<g id="axis" fill="#555" shape-rendering="crispEdges"><rect x="0" y="4" width="1" height="13"/><rect x="-2" y="14" width="13" height="1"/>
<polygon points="-1.2,5.9 0.5,2.8 2.2,5.9" shape-rendering="auto"/><polygon points="9.6,12.9 12.2,14.5 9.6,16.1" shape-rendering="auto"/></g>
<g id="grip" fill="#a8a8a8" shape-rendering="crispEdges"><rect x="0" y="1" width="3" height="1"/><rect x="0" y="3" width="3" height="1"/><rect x="0" y="5" width="3" height="1"/><rect x="0" y="7" width="3" height="1"/><rect x="0" y="9" width="3" height="1"/><rect x="0" y="11" width="3" height="1"/><rect x="0" y="13" width="3" height="1"/><rect x="0" y="15" width="3" height="1"/><rect x="0" y="17" width="3" height="1"/></g>
<polygon id="dd" points="0,7.6 5.8,7.6 2.9,11.2" fill="#000"/>
<g id="plus"><path d="M4.3,0.45h3.4v3.85h3.85v3.4h-3.85v3.85h-3.4v-3.85h-3.85v-3.4h3.85z" fill="url(#gplus)" stroke="#078a0d" stroke-width="0.9"/></g>
</defs>
<rect x="0" y="20" width="1689" height="1" fill="#f8f8f8" shape-rendering="crispEdges"/>
<rect x="2" y="0" width="1" height="19" fill="#a0a0a0" shape-rendering="crispEdges"/>
<rect x="3" y="0" width="1" height="19" fill="#fbfbfb" shape-rendering="crispEdges"/>
<path d="M12.5,2.2 q0,-1 1,-1 h6.5 l3.5,3.5 v9 q0,1 -1,1 h-9 q-1,0 -1,-1z" fill="#fff" stroke="#707070" stroke-width="1"/>
<path d="M20,1.2 v3.5 h3.5" fill="#e8e8e8" stroke="#707070" stroke-width="0.8"/>
<rect x="14" y="3" width="3" height="1.6" fill="#999"/><rect x="14" y="7" width="5" height="1" fill="#888"/><rect x="14" y="9" width="5" height="1" fill="#999"/><rect x="14" y="11" width="3" height="1" fill="#999"/>
<use href="#plus" x="16" y="7"/>
<text x="30.7" y="12.2" font-size="11.5" fill="#000" textLength="36.4" lengthAdjust="spacingAndGlyphs">新订单</text>
<path d="M84.6,2.2 L94.5,8.7 L94.8,10.9 L86.9,16.6 L79.1,10.9 Q82.6,7.4 84.6,2.2z" fill="#d9980c" stroke="#a96a08" stroke-width="1" stroke-linejoin="round"/>
<path d="M85,3.4 L93.6,9 L87,14 L80.6,9.9 Q83.4,7 85,3.4z" fill="url(#gbook)"/>
<path d="M87.4,15.4 L94,10.6 M87.2,14.4 L93.8,9.6" stroke="#f3e6b0" stroke-width="0.7" fill="none"/>
<path d="M80,10.8 L87,15.6" stroke="#f8dc6a" stroke-width="0.9" fill="none"/>
<path d="M109.2,2 l3,-0.7 h7.6 v9 h-10.6z" fill="url(#gsrv)"/><path d="M109.2,2 l3,1.4 v7 h-3z" fill="#0a90f8"/><path d="M112.2,3.4 v7" stroke="#d8f0ff" stroke-width="0.7"/><rect x="114" y="5.6" width="4.6" height="1.2" fill="#e8f8ff"/>
<path d="M109.4,16.3 C106.3,16.3 106.3,12.2 109,11.8 C109.4,10.5 111.3,10.3 112.1,11.2 C112.8,8.9 117.4,8.6 118,11 C119.2,9.9 121.6,10.6 121.4,12.3 C123.5,12.5 123.6,16.3 121,16.3 Z" fill="url(#gcloud)" stroke="#41609e" stroke-width="0.9"/>
<defs><radialGradient id="gsig" gradientUnits="userSpaceOnUse" cx="143" cy="8.8" r="7.8"><stop offset="0" stop-color="#f4f8f0"/><stop offset="0.45" stop-color="#dcecd4"/><stop offset="0.8" stop-color="#9cca98"/><stop offset="1" stop-color="#4a9a58"/></radialGradient></defs>
<circle cx="143" cy="8.8" r="7.6" fill="#f5f7fb"/><path d="M143,1 a7.8,7.8 0 0 1 0,15.6z" fill="url(#gsig)" opacity="0.9"/>
<path d="M143,1 a7.8,7.8 0 0 1 0,15.6" fill="none" stroke="#4a8a68" stroke-width="0.8" opacity="0.8"/>
<g fill="none" stroke-dasharray="1.6 0.9"><path d="M143,16.4 a7.6,7.6 0 0 1 0,-15.2" stroke="#6a90d8" stroke-width="1.1" opacity="0.75"/><path d="M143,13.8 a5,5 0 0 1 0,-10" stroke="#6a90d8" stroke-width="1.1" opacity="0.7"/><path d="M143,3.8 a5,5 0 0 1 0,10" stroke="#5a98a0" stroke-width="1" opacity="0.6"/></g>
<circle cx="142.9" cy="8.6" r="2.1" fill="#2458c8"/><rect x="142.9" y="8.8" width="1.4" height="7.9" fill="#1ea42c"/>
<path d="M162.4,8.4 L177.6,7.2 L178,9 L170.6,16.6 L168.8,16.4z" fill="url(#gface)" stroke="#c8980a" stroke-width="0.7" stroke-linejoin="round"/>
<ellipse cx="170" cy="6.4" rx="7.9" ry="2.3" fill="url(#ghat)" stroke="#2a84ac" stroke-width="0.8" transform="rotate(-4 170 6.4)"/>
<path d="M166,5.6 q0.2,-4.4 3.6,-4.5 q3.4,0 3.8,4.2 q-3.6,1.4 -7.4,0.3z" fill="#6cbcee" stroke="#2a84ac" stroke-width="0.8"/>
<circle cx="174.4" cy="12.8" r="4.1" fill="#e42c10" stroke="#b81c04" stroke-width="0.6"/><rect x="172.9" y="11.3" width="3" height="3" fill="#fff"/>
<text x="182.5" y="12.4" font-size="11.5" fill="#000" textLength="48.3" lengthAdjust="spacingAndGlyphs">自动交易</text>
<rect x="238" y="0" width="1" height="21" fill="#a0a0a0" shape-rendering="crispEdges"/>
<rect x="239" y="0" width="1" height="21" fill="#fbfbfb" shape-rendering="crispEdges"/>
<use href="#grip" x="242"/>
<use href="#axis" x="256"/>
<g fill="#0a8a0a" shape-rendering="crispEdges"><rect x="262" y="4" width="1" height="9"/><rect x="262" y="5" width="3" height="1"/><rect x="260" y="11" width="3" height="1"/></g>
<rect x="277" y="0" width="24" height="19" fill="#f8f8f8" shape-rendering="crispEdges"/>
<rect x="276" y="0" width="1" height="19" fill="#a0a0a0" shape-rendering="crispEdges"/>
<use href="#axis" x="284"/>
<rect x="290" y="1" width="1" height="12" fill="#0a8a0a" shape-rendering="crispEdges"/><rect x="288.5" y="3.5" width="4" height="7" fill="#35e035" stroke="#0a8a0a" stroke-width="1"/>
<use href="#axis" x="312"/>
<path d="M311.2,11.6 Q314.5,6 317,6.3 Q319,6.6 320.4,8.6 T322.8,10.2" fill="none" stroke="#1a8a1a" stroke-width="1.1"/>
<rect x="333" y="0" width="1" height="19" fill="#a0a0a0" shape-rendering="crispEdges"/>
<rect x="334" y="0" width="1" height="19" fill="#fbfbfb" shape-rendering="crispEdges"/>
<line x1="351.8" y1="11.4" x2="356.7" y2="15.2" stroke="#a87c10" stroke-width="3.4" stroke-linecap="round"/>
<line x1="351.8" y1="11.4" x2="356.7" y2="15.2" stroke="#f0d030" stroke-width="2" stroke-linecap="round"/>
<circle cx="348" cy="7.1" r="5.4" fill="#d4f0fc" stroke="#2a6cd0" stroke-width="1.2"/>
<rect x="344.5" y="6.2" width="7" height="1.9" fill="#3a80b0"/>
<rect x="347.05" y="3.6" width="1.9" height="7" fill="#3a80b0"/>
<line x1="379.8" y1="11.4" x2="384.7" y2="15.2" stroke="#a87c10" stroke-width="3.4" stroke-linecap="round"/>
<line x1="379.8" y1="11.4" x2="384.7" y2="15.2" stroke="#f0d030" stroke-width="2" stroke-linecap="round"/>
<circle cx="376" cy="7.1" r="5.4" fill="#d4f0fc" stroke="#2a6cd0" stroke-width="1.2"/>
<rect x="372.5" y="6.2" width="7" height="1.9" fill="#3a80b0"/>
<rect x="398.3" y="1.3" width="7.7" height="7.7" fill="url(#ggrn)"/>
<path d="M399.2,4.1 h5.9 v4 h-1 v-0.9 h-3.9 v0.9 h-1z" fill="#fff"/><rect x="400.2" y="5.2" width="3.9" height="0.9" fill="#a8e090"/><rect x="399.2" y="2.2" width="1" height="1" fill="#e8f0ff"/>
<rect x="406.3" y="1.3" width="7.7" height="7.7" fill="url(#gblu)"/>
<path d="M407.2,4.1 h5.9 v4 h-1 v-0.9 h-3.9 v0.9 h-1z" fill="#fff"/><rect x="408.2" y="5.2" width="3.9" height="0.9" fill="#90a8f0"/><rect x="407.2" y="2.2" width="1" height="1" fill="#e8f0ff"/>
<rect x="398.3" y="9.2" width="7.7" height="7.7" fill="url(#gblu)"/>
<path d="M399.2,12.0 h5.9 v4 h-1 v-0.9 h-3.9 v0.9 h-1z" fill="#fff"/><rect x="400.2" y="13.1" width="3.9" height="0.9" fill="#90a8f0"/><rect x="399.2" y="10.1" width="1" height="1" fill="#e8f0ff"/>
<rect x="406.3" y="9.2" width="7.7" height="7.7" fill="url(#ggrn)"/>
<path d="M407.2,12.0 h5.9 v4 h-1 v-0.9 h-3.9 v0.9 h-1z" fill="#fff"/><rect x="408.2" y="13.1" width="3.9" height="0.9" fill="#a8e090"/><rect x="407.2" y="10.1" width="1" height="1" fill="#e8f0ff"/>
<rect x="423" y="0" width="1" height="19" fill="#a0a0a0" shape-rendering="crispEdges"/>
<rect x="424" y="0" width="1" height="19" fill="#fbfbfb" shape-rendering="crispEdges"/>
<rect x="429" y="0" width="24" height="19" fill="#f8f8f8" shape-rendering="crispEdges"/>
<rect x="428" y="0" width="1" height="19" fill="#a0a0a0" shape-rendering="crispEdges"/>
<use href="#axis" x="436"/>
<polygon points="441.3,5.2 441.3,11.6 445.2,8.5" fill="#58e058" stroke="#0a9a0a" stroke-width="1" stroke-linejoin="round"/>
<rect x="457" y="0" width="24" height="19" fill="#f8f8f8" shape-rendering="crispEdges"/>
<rect x="456" y="0" width="1" height="19" fill="#a0a0a0" shape-rendering="crispEdges"/>
<use href="#axis" x="464"/>
<rect x="470" y="3" width="1" height="10" fill="#1a7ab0" shape-rendering="crispEdges"/>
<path d="M471.4,8.5 h4.4 M471.4,8.5 l2.6,-2.6 M471.4,8.5 l2.6,2.6" stroke="#d85000" stroke-width="1.1" fill="none"/><polygon points="471.2,8.5 474.2,6.2 474.2,10.8" fill="#e86010"/>
<rect x="485" y="0" width="1" height="19" fill="#a0a0a0" shape-rendering="crispEdges"/>
<rect x="486" y="0" width="1" height="19" fill="#fbfbfb" shape-rendering="crispEdges"/>
<path d="M495.6,2.2 q0,-1 1,-1 h6.4 l3.4,3.4 v9 q0,1 -1,1 h-8.8 q-1,0 -1,-1z" fill="#fff" stroke="#808080" stroke-width="1"/>
<path d="M503,1.2 v3.4 h3.4" fill="#e8e8e8" stroke="#808080" stroke-width="0.8"/>
<path d="M500.2,4.6 q-1.6,-0.4 -1.8,1.4 v6.4 M497.4,7.6 h2.6" fill="none" stroke="#4a4030" stroke-width="0.9"/>
<use href="#plus" x="499" y="7"/>
<use href="#dd" x="516.7"/>
<circle cx="541" cy="8.9" r="8" fill="url(#gclock)"/><circle cx="541" cy="8.9" r="5.3" fill="#fdfdfd"/>
<path d="M540.8,5 v4.2 h3" fill="none" stroke="#222" stroke-width="1.1"/>
<g fill="#7a9ad0"><rect x="540.5" y="3.6" width="1" height="1"/><rect x="540.5" y="13.2" width="1" height="1"/><rect x="535.8" y="8.4" width="1" height="1"/><rect x="545.2" y="8.4" width="1" height="1"/><rect x="540" y="11" width="2" height="0.8" fill="#4a9af0"/></g>
<use href="#dd" x="555.7"/>
<rect x="572.5" y="2.5" width="15.2" height="13.2" fill="#fff" stroke="#2a68c0" stroke-width="1"/><rect x="573" y="3" width="14.2" height="2" fill="#3a88e0"/><rect x="573" y="9.4" width="14.2" height="0.9" fill="#3a78d0"/>
<path d="M574.6,8.2 h1.6 l1.4,-1.2 h1.4 l1.2,-1 h1.2 l1,1 h1.6 l1.2,-1 h1" fill="none" stroke="#a82010" stroke-width="1.1"/>
<path d="M575.4,13.6 h1.4 l1.2,-1.2 h1.2 l1,1 h1 l1.8,-2 h1 l1.4,1.8" fill="none" stroke="#189028" stroke-width="1.1"/>
<use href="#dd" x="594.6"/>
<rect x="606" y="0" width="1" height="21" fill="#a0a0a0" shape-rendering="crispEdges"/>
<rect x="607" y="0" width="1" height="21" fill="#fbfbfb" shape-rendering="crispEdges"/>
<use href="#grip" x="610"/>
<rect x="617" y="0" width="24" height="19" fill="#f8f8f8" shape-rendering="crispEdges"/>
<rect x="616" y="0" width="1" height="19" fill="#a0a0a0" shape-rendering="crispEdges"/>
<polygon points="624.1,1.8 624.1,12.9 626.7,10.8 629.4,16.1 631,15.3 628.4,10 632.2,9.6" fill="#4d4d4d"/>
<g fill="#4d4d4d" shape-rendering="crispEdges"><rect x="656" y="2" width="1" height="6"/><rect x="656" y="11" width="1" height="6"/><rect x="649" y="9" width="6" height="1"/><rect x="658" y="9" width="6" height="1"/></g>
<rect x="673" y="0" width="1" height="19" fill="#a0a0a0" shape-rendering="crispEdges"/>
<rect x="674" y="0" width="1" height="19" fill="#fbfbfb" shape-rendering="crispEdges"/>
<g fill="#4d4d4d" shape-rendering="crispEdges"><rect x="690" y="3" width="1" height="13"/><rect x="713" y="9" width="12" height="1"/></g>
<line x1="741" y1="16" x2="753" y2="3.8" stroke="#4d4d4d" stroke-width="1.1"/>
<g stroke="#4d4d4d" stroke-width="1" fill="none"><path d="M767,11 L776,3.2 M769.4,16 L781,5.8 M772.4,16.2 L781.2,8.6"/><path d="M770.8,7.6 l-1.2,6.6 M773.8,5.4 l-1.4,7.4 M776.8,3.6 l-1.4,7.4 M779.6,1.4 l-1.2,7" stroke-width="0.9"/></g>
<text x="778" y="17.8" font-size="6.6" font-weight="bold" fill="#333">E</text>
<rect x="796" y="2" width="1" height="1" fill="#4d4d4d" shape-rendering="crispEdges"/>
<rect x="798" y="2" width="1" height="1" fill="#4d4d4d" shape-rendering="crispEdges"/>
<rect x="800" y="2" width="1" height="1" fill="#4d4d4d" shape-rendering="crispEdges"/>
<rect x="802" y="2" width="1" height="1" fill="#4d4d4d" shape-rendering="crispEdges"/>
<rect x="804" y="2" width="1" height="1" fill="#4d4d4d" shape-rendering="crispEdges"/>
<rect x="806" y="2" width="1" height="1" fill="#4d4d4d" shape-rendering="crispEdges"/>
<rect x="808" y="2" width="1" height="1" fill="#4d4d4d" shape-rendering="crispEdges"/>
<rect x="796" y="5" width="1" height="1" fill="#4d4d4d" shape-rendering="crispEdges"/>
<rect x="798" y="5" width="1" height="1" fill="#4d4d4d" shape-rendering="crispEdges"/>
<rect x="800" y="5" width="1" height="1" fill="#4d4d4d" shape-rendering="crispEdges"/>
<rect x="802" y="5" width="1" height="1" fill="#4d4d4d" shape-rendering="crispEdges"/>
<rect x="804" y="5" width="1" height="1" fill="#4d4d4d" shape-rendering="crispEdges"/>
<rect x="806" y="5" width="1" height="1" fill="#4d4d4d" shape-rendering="crispEdges"/>
<rect x="808" y="5" width="1" height="1" fill="#4d4d4d" shape-rendering="crispEdges"/>
<rect x="796" y="9" width="1" height="1" fill="#4d4d4d" shape-rendering="crispEdges"/>
<rect x="798" y="9" width="1" height="1" fill="#4d4d4d" shape-rendering="crispEdges"/>
<rect x="800" y="9" width="1" height="1" fill="#4d4d4d" shape-rendering="crispEdges"/>
<rect x="802" y="9" width="1" height="1" fill="#4d4d4d" shape-rendering="crispEdges"/>
<rect x="804" y="9" width="1" height="1" fill="#4d4d4d" shape-rendering="crispEdges"/>
<rect x="806" y="9" width="1" height="1" fill="#4d4d4d" shape-rendering="crispEdges"/>
<rect x="808" y="9" width="1" height="1" fill="#4d4d4d" shape-rendering="crispEdges"/>
<rect x="796" y="13" width="1" height="1" fill="#4d4d4d" shape-rendering="crispEdges"/>
<rect x="798" y="13" width="1" height="1" fill="#4d4d4d" shape-rendering="crispEdges"/>
<rect x="800" y="13" width="1" height="1" fill="#4d4d4d" shape-rendering="crispEdges"/>
<rect x="802" y="13" width="1" height="1" fill="#4d4d4d" shape-rendering="crispEdges"/>
<rect x="804" y="13" width="1" height="1" fill="#4d4d4d" shape-rendering="crispEdges"/>
<text x="805.8" y="17.8" font-size="6.6" font-weight="bold" fill="#333">F</text>
<text x="826.6" y="13.9" font-size="12.4" fill="#4d4d4d" stroke="#4d4d4d" stroke-width="0.3">A</text>
<rect x="853.5" y="3.5" width="11" height="12" fill="none" stroke="#4d4d4d" stroke-width="1" stroke-dasharray="1 1" shape-rendering="crispEdges"/>
<rect x="852" y="2" width="2" height="1.4" fill="#4d4d4d"/>
<path d="M855.2,6.6 h7.6 M859,6.6 v7.4" stroke="#4d4d4d" stroke-width="1.5" fill="none"/>
<g fill="#4d4d4d"><polygon points="883.4,3 887.2,6.4 886,7.7 881,7.7 879.8,6.4"/><polygon points="890.4,16 894,12.7 892.8,11.5 888.2,11.5 887.2,12.7"/></g><path d="M882.2,10.4 l2,2 l4.4,-5.2" fill="none" stroke="#4d4d4d" stroke-width="1.3"/>
<use href="#dd" x="900.6"/>
<rect x="912" y="0" width="1" height="21" fill="#a0a0a0" shape-rendering="crispEdges"/>
<rect x="913" y="0" width="1" height="21" fill="#fbfbfb" shape-rendering="crispEdges"/>
<use href="#grip" x="916"/>
<rect x="1063" y="0" width="24" height="19" fill="#f8f8f8" shape-rendering="crispEdges"/>
<rect x="1062" y="0" width="1" height="19" fill="#a0a0a0" shape-rendering="crispEdges"/>
<text x="927.6" y="12.8" font-size="11.6" fill="#3c3c3c" textLength="12.6" lengthAdjust="spacingAndGlyphs">M1</text>
<text x="955.8" y="12.8" font-size="11.6" fill="#3c3c3c" textLength="12.4" lengthAdjust="spacingAndGlyphs">M5</text>
<text x="981.4" y="12.8" font-size="11.6" fill="#3c3c3c" textLength="17.6" lengthAdjust="spacingAndGlyphs">M15</text>
<text x="1009.6" y="12.8" font-size="11.6" fill="#3c3c3c" textLength="18" lengthAdjust="spacingAndGlyphs">M30</text>
<text x="1040.7" y="12.8" font-size="11.6" fill="#3c3c3c" textLength="11.5" lengthAdjust="spacingAndGlyphs">H1</text>
<text x="1067.7" y="12.8" font-size="11.6" fill="#3c3c3c" textLength="12" lengthAdjust="spacingAndGlyphs">H4</text>
<text x="1096.6" y="12.8" font-size="11.6" fill="#3c3c3c" textLength="11.7" lengthAdjust="spacingAndGlyphs">D1</text>
<text x="1124" y="12.8" font-size="11.6" fill="#3c3c3c" textLength="14.3" lengthAdjust="spacingAndGlyphs">W1</text>
<text x="1150.6" y="12.8" font-size="11.6" fill="#3c3c3c" textLength="14.8" lengthAdjust="spacingAndGlyphs">MN</text>
<rect x="1173" y="0" width="1" height="21" fill="#a0a0a0" shape-rendering="crispEdges"/>
<rect x="1174" y="0" width="1" height="21" fill="#fbfbfb" shape-rendering="crispEdges"/>
<line x1="1640.6" y1="9.6" x2="1636.2" y2="13.7" stroke="#1a4cc8" stroke-width="2.4" stroke-linecap="round"/><circle cx="1643.7" cy="6.5" r="3.9" fill="#f6f6ff" stroke="#2a5cd4" stroke-width="1.2"/>
<path d="M1660.2,11 a5.7,4.4 0 1 1 5.2,4.4 l-2.2,2 l0.2,-2.4 a5.7,4.4 0 0 1 -3.2,-4z" fill="#e0e0ea" stroke="#a8a8a8" stroke-width="0.8"/>
<circle cx="1674.5" cy="6.4" r="8.3" fill="url(#gred)"/>
<text x="1673.4" y="11" font-size="12.8" font-weight="bold" fill="#fff" text-anchor="middle" font-family='"Liberation Serif",serif'>1</text>
</svg>
</body></html>
